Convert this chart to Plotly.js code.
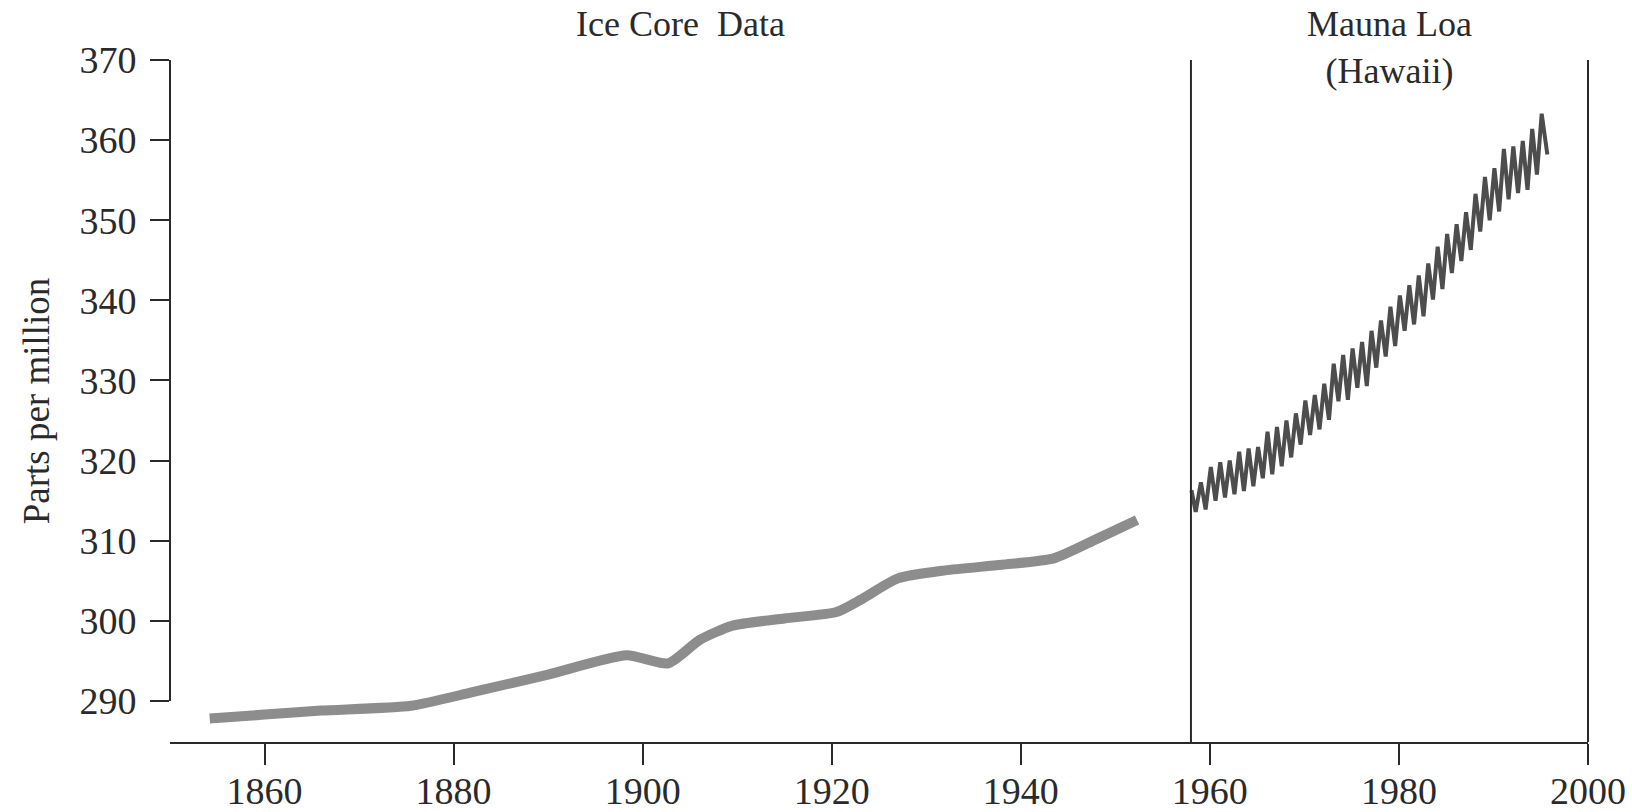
<!DOCTYPE html>
<html>
<head>
<meta charset="utf-8">
<script src="https://cdn.plot.ly/plotly-3.0.1.min.js"></script>
<style>
  html, body { margin: 0; padding: 0; background: #ffffff; }
  #chart { width: 1632px; height: 812px; }
</style>
</head>
<body>
<div id="chart"></div>
<script>
// ---- Data ----
// Ice core record (smoothed, grey)
const iceYears = [1854.2, 1860, 1866, 1875.5, 1882, 1890, 1898.3, 1902.7, 1906, 1909.5, 1915, 1920.5, 1923, 1927, 1932, 1938, 1943.5, 1948, 1952.3];
const icePpm   = [287.8, 288.3, 288.8, 289.4, 291.1, 293.3, 295.7, 294.7, 297.6, 299.4, 300.3, 301.1, 302.6, 305.3, 306.3, 307.0, 307.8, 310.2, 312.6];

// Mauna Loa record (seasonal peaks and troughs, dark)
const mlYears = [1958.05, 1958.5,
  1959.05, 1959.55, 1960.1, 1960.6, 1961.1, 1961.6, 1962.1, 1962.6, 1963.1, 1963.6,
  1964.1, 1964.6, 1965.1, 1965.6, 1966.1, 1966.6, 1967.1, 1967.6, 1968.1, 1968.6,
  1969.1, 1969.6, 1970.1, 1970.6, 1971.1, 1971.6, 1972.1, 1972.6, 1973.1, 1973.6,
  1974.1, 1974.6, 1975.1, 1975.6, 1976.1, 1976.6, 1977.1, 1977.6, 1978.1, 1978.6,
  1979.1, 1979.6, 1980.1, 1980.6, 1981.1, 1981.6, 1982.1, 1982.6, 1983.1, 1983.6,
  1984.1, 1984.6, 1985.1, 1985.6, 1986.1, 1986.6, 1987.1, 1987.6, 1988.1, 1988.6,
  1989.1, 1989.6, 1990.1, 1990.6, 1991.1, 1991.6, 1992.1, 1992.6, 1993.1, 1993.6,
  1994.1, 1994.6, 1995.1, 1995.7];
const mlPpm = [316.3, 313.6,
  317.3, 313.9, 319.2, 315.0, 319.8, 315.4, 320.0, 315.8, 321.1, 316.2,
  321.5, 316.8, 321.7, 317.8, 323.6, 318.3, 324.2, 319.3, 325.0, 320.4,
  325.9, 322.0, 327.5, 323.2, 328.2, 323.9, 329.6, 325.1, 332.1, 327.4,
  333.2, 327.6, 334.0, 329.1, 334.8, 329.3, 336.2, 331.6, 337.5, 333.0,
  339.2, 334.3, 340.6, 336.2, 341.9, 337.0, 343.1, 338.0, 344.6, 340.1,
  346.7, 341.4, 348.3, 343.4, 349.5, 344.9, 351.0, 346.3, 353.3, 348.6,
  355.4, 350.0, 356.5, 351.1, 358.9, 352.6, 359.2, 353.4, 359.9, 353.8,
  361.4, 355.7, 363.3, 358.2];

// Axis ticks and labels
const xTicks = [1860, 1880, 1900, 1920, 1940, 1960, 1980, 2000];
const yTicks = [290, 300, 310, 320, 330, 340, 350, 360, 370];
const yTitle = "Parts per million";
const sectionLabels = ["Ice Core\u00a0 Data", "Mauna Loa<br>(Hawaii)"];
const sectionCenters = [1904, 1979];
const dividerYears = [1958, 2000];

// ---- Layout ----
const xRange = [1850, 2000];
const yRange = [284.88, 370];
const FONT = "Liberation Serif, Times New Roman, serif";
const INK = "#2a2a2a";

const xPaper = v => (v - xRange[0]) / (xRange[1] - xRange[0]);
const yPaper = v => (v - yRange[0]) / (yRange[1] - yRange[0]);

const traces = [
  {
    x: iceYears, y: icePpm, type: "scatter", mode: "lines",
    line: { color: "#8d8d8d", width: 10, shape: "spline", smoothing: 0.6 },
    hoverinfo: "skip", showlegend: false
  },
  {
    x: mlYears, y: mlPpm, type: "scatter", mode: "lines",
    line: { color: "#4d4d4d", width: 4 },
    hoverinfo: "skip", showlegend: false
  }
];

const shapes = [
  // y axis line from 290 to 370 only
  { type: "line", xref: "paper", yref: "paper",
    x0: 0, x1: 0, y0: yPaper(yTicks[0]), y1: yPaper(yTicks[yTicks.length - 1]),
    line: { color: INK, width: 2 } }
].concat(dividerYears.map(d => ({
  type: "line", xref: "paper", yref: "paper",
  x0: xPaper(d), x1: xPaper(d), y0: 0, y1: 1,
  line: { color: INK, width: 2 }
})));

const annotations = [
  { text: sectionLabels[0], x: sectionCenters[0], xref: "x", y: 1.0528, yref: "paper",
    xanchor: "center", yanchor: "middle", showarrow: false,
    font: { family: FONT, size: 36, color: INK } },
  { text: sectionLabels[1], x: sectionCenters[1], xref: "x", y: 1.0528, yref: "paper",
    xanchor: "center", yanchor: "top", showarrow: false, yshift: 22,
    font: { family: FONT, size: 36, color: INK } }
];

const layout = {
  width: 1632, height: 812,
  margin: { l: 170, r: 44, t: 60, b: 70, pad: 0 },
  paper_bgcolor: "#ffffff", plot_bgcolor: "#ffffff",
  font: { family: FONT, size: 36, color: INK },
  showlegend: false,
  xaxis: {
    range: xRange, tickmode: "array", tickvals: xTicks, ticktext: xTicks.map(String),
    showgrid: false, zeroline: false,
    showline: true, linecolor: INK, linewidth: 2,
    ticks: "outside", ticklen: 21, tickwidth: 2, tickcolor: INK,
    ticklabelstandoff: -7,
    tickfont: { family: FONT, size: 38, color: INK }
  },
  yaxis: {
    range: yRange, tickmode: "array", tickvals: yTicks, ticktext: yTicks.map(String),
    showgrid: false, zeroline: false, showline: false,
    ticks: "outside", ticklen: 19, tickwidth: 2, tickcolor: INK,
    ticklabelstandoff: 6,
    tickfont: { family: FONT, size: 38, color: INK },
    title: { text: yTitle, standoff: 18, font: { family: FONT, size: 37, color: INK } }
  },
  shapes: shapes,
  annotations: annotations
};

Plotly.newPlot("chart", traces, layout, { displayModeBar: false, staticPlot: true });
</script>
</body>
</html>
